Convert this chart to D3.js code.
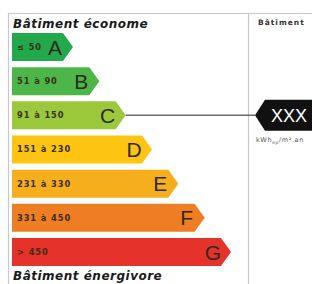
<!DOCTYPE html>
<html>
<head>
<meta charset="utf-8">
<script src="https://cdn.jsdelivr.net/npm/d3@7"></script>
<style>
  body { margin: 0; background: #fff; }
  svg { display: block; }
</style>
</head>
<body>
<div id="chart"></div>
<script>
// DPE energy label

var classes = ["A", "B", "C", "D", "E", "F", "G"];
var ranges = ["\u2264 50", "51 \u00e0 90", "91 \u00e0 150", "151 \u00e0 230", "231 \u00e0 330", "331 \u00e0 450", "> 450"];
var colors = ["#22a94b", "#4cb748", "#9cc83b", "#fdc512", "#f7ae1c", "#ef7d24", "#e5322b"];
var current = "C";
var currentValue = "XXX";
var unitLabel = "kWh";

var width = 312;
var height = 284;

var svg = d3.select("#chart")
	.append("svg")
		.attr("width", width)
		.attr("height", height);

// frame
var frame = svg.append("g").attr("stroke", "#c8c8c8").attr("stroke-width", 1.2);
frame.append("line").attr("x1", 8).attr("x2", width).attr("y1", 13.5).attr("y2", 13.5);
frame.append("line").attr("x1", 8.5).attr("x2", 8.5).attr("y1", 13).attr("y2", height);
frame.append("line").attr("x1", 248.5).attr("x2", 248.5).attr("y1", 13).attr("y2", height);

var y = d3.scaleBand()
	.domain(classes)
	.range([33, 266])
	.paddingInner(0.18)
	.paddingOuter(0);

// tip of each arrow grows with the class
var tip = d3.scaleLinear()
	.domain([0, classes.length - 1])
	.range([73, 231]);

var x0 = 12;
var head = 10;

function arrowPath(d, i) {
	var t = y(d), b = t + y.bandwidth(), m = t + y.bandwidth() / 2, p = tip(i);
	return "M" + x0 + "," + t + "L" + (p - head) + "," + t + "L" + p + "," + m +
		"L" + (p - head) + "," + b + "L" + x0 + "," + b + "Z";
}

var bars = svg.append("g")
	.selectAll("g")
	.data(classes)
	.enter().append("g");

bars.append("path")
	.attr("d", arrowPath)
	.attr("fill", function(d, i) { return colors[i]; });

bars.append("text")
	.attr("x", 17)
	.attr("y", function(d) { return y(d) + y.bandwidth() / 2; })
	.attr("dy", "0.35em")
	.attr("font-family", "DejaVu Sans")
	.attr("font-weight", "bold")
	.attr("font-size", 8.3)
	.attr("letter-spacing", 0.9)
	.attr("fill", "#3a2f1a")
	.text(function(d, i) { return ranges[i]; });

bars.append("text")
	.attr("x", function(d, i) { return tip(i) - 18; })
	.attr("y", function(d) { return y(d) + y.bandwidth() / 2; })
	.attr("dy", "0.36em")
	.attr("text-anchor", "middle")
	.attr("font-family", "Liberation Sans")
	.attr("font-size", 21)
	.attr("fill", "#2e2a1c")
	.text(function(d) { return d; });

// titles
svg.append("text")
	.attr("x", 13).attr("y", 28)
	.attr("font-family", "DejaVu Sans")
	.attr("font-weight", "bold").attr("font-style", "italic")
	.attr("font-size", 12)
	.attr("letter-spacing", 0.5)
	.attr("fill", "#1a1a1a")
	.text("B\u00e2timent \u00e9conome");

svg.append("text")
	.attr("x", 13).attr("y", 280)
	.attr("font-family", "DejaVu Sans")
	.attr("font-weight", "bold").attr("font-style", "italic")
	.attr("font-size", 12)
	.attr("letter-spacing", 0.5)
	.attr("fill", "#1a1a1a")
	.text("B\u00e2timent \u00e9nergivore");

svg.append("text")
	.attr("x", 258).attr("y", 25)
	.attr("font-family", "DejaVu Sans")
	.attr("font-weight", "bold")
	.attr("font-size", 7.5)
	.attr("letter-spacing", 1)
	.attr("fill", "#333")
	.text("B\u00e2timent");

// current class marker
var ci = classes.indexOf(current);
var cy = y(current) + y.bandwidth() / 2;
var mx = 255;

svg.append("line")
	.attr("x1", tip(ci)).attr("x2", mx)
	.attr("y1", cy).attr("y2", cy)
	.attr("stroke", "#6b6b6b")
	.attr("stroke-width", 1.5);

var mh = 31;
svg.append("path")
	.attr("d", "M" + mx + "," + cy + "L" + (mx + 10) + "," + (cy - mh / 2) + "L" + (width + 2) + "," + (cy - mh / 2) +
		"L" + (width + 2) + "," + (cy + mh / 2) + "L" + (mx + 10) + "," + (cy + mh / 2) + "Z")
	.attr("fill", "#111");

svg.append("text")
	.attr("x", 271).attr("y", cy)
	.attr("dy", "0.36em")
	.attr("font-family", "Liberation Sans")
	.attr("font-size", 18)
	.attr("fill", "#fff")
	.text(currentValue);

var unit = svg.append("text")
	.attr("x", 256).attr("y", cy + 27)
	.attr("font-family", "DejaVu Sans")
	.attr("font-size", 6.5)
	.attr("letter-spacing", 0.6)
	.attr("fill", "#555");
unit.append("tspan").text(unitLabel);
unit.append("tspan").attr("font-size", 4.5).attr("dy", 1.5).text("ep");
unit.append("tspan").attr("dy", -1.5).text("/m\u00b2.an");
</script>
</body>
</html>
